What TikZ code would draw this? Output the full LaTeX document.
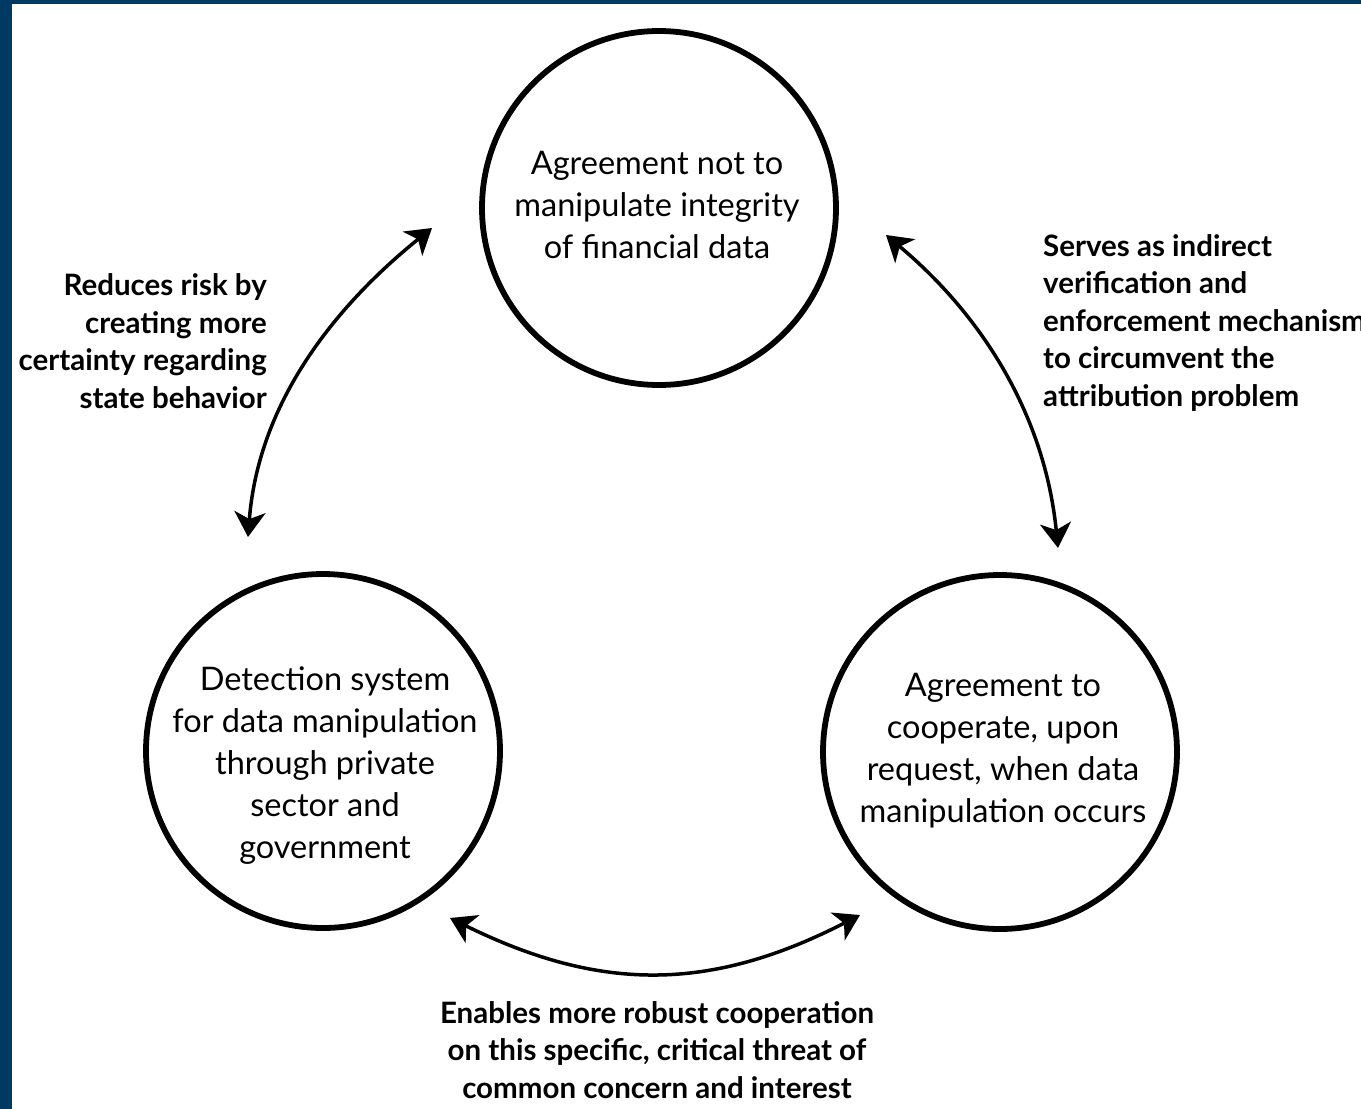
\documentclass[tikz,border=0pt]{standalone}
\usepackage{fontspec}
\setmainfont{Lato}
\usetikzlibrary{arrows.meta}
\definecolor{framebar}{HTML}{003A63}
\begin{document}
\begin{tikzpicture}[x=1pt,y=-1pt,
  ring/.style={circle, draw, line width=5.8pt, minimum size=354pt, inner sep=0pt},
  ringtext/.style={align=center, inner sep=0pt, font=\fontsize{32.5}{42}\selectfont},
  note/.style={inner sep=0pt, font=\bfseries\fontsize{29.5}{37.5}\selectfont},
  link/.style={line width=3.5pt, {Stealth[length=25pt,width=31pt,inset=7pt]}-{Stealth[length=25pt,width=31pt,inset=7pt]}},
]
% page and frame
\useasboundingbox (0,0) rectangle (1361,1109);
\fill[white] (0,0) rectangle (1361,1109);
\fill[framebar] (0,0) rectangle (12,1109);
\fill[framebar] (0,0) rectangle (1361,4);

% the three circles
\node[ring] (top) at (659,208) {};
\node[ring] (left) at (323,751) {};
\node[ring] (right) at (1000,752) {};

\node[ringtext] (toptext) at (657,205) {Agreement not to\\manipulate integrity\\of financial data};
\node[ringtext] (lefttext) at (325,766) {Detection system\\for data manipulation\\through private\\sector and\\government};
\node[ringtext] (righttext) at (1003,751) {Agreement to\\cooperate, upon\\request, when data\\manipulation occurs};

% arrow end points
\coordinate (tl) at (432,228);
\coordinate (lt) at (248,537);
\coordinate (tr) at (886,235);
\coordinate (rt) at (1058,548);
\coordinate (lr) at (450,918);
\coordinate (rl) at (860,915);

% connectors
\draw[link] (tl) .. controls (328,312) and (258,408) .. (lt);
\draw[link] (tr) .. controls (985,318) and (1045,418) .. (rt);
\draw[link] (lr) .. controls (600,992) and (710,992) .. (rl);

% labels
\node[note, anchor=east, align=right] (leftnote) at (267,341) {Reduces risk by\\creating more\\certainty regarding\\state behavior};
\node[note, anchor=west, align=left] (rightnote) at (1043,323) {Serves as indirect\\verification and\\enforcement mechanism\\to circumvent the\\attribution problem};
\node[note, align=center] (bottomnote) at (657,1050) {Enables more robust cooperation\\on this specific, critical threat of\\common concern and interest};
\end{tikzpicture}
\end{document}
